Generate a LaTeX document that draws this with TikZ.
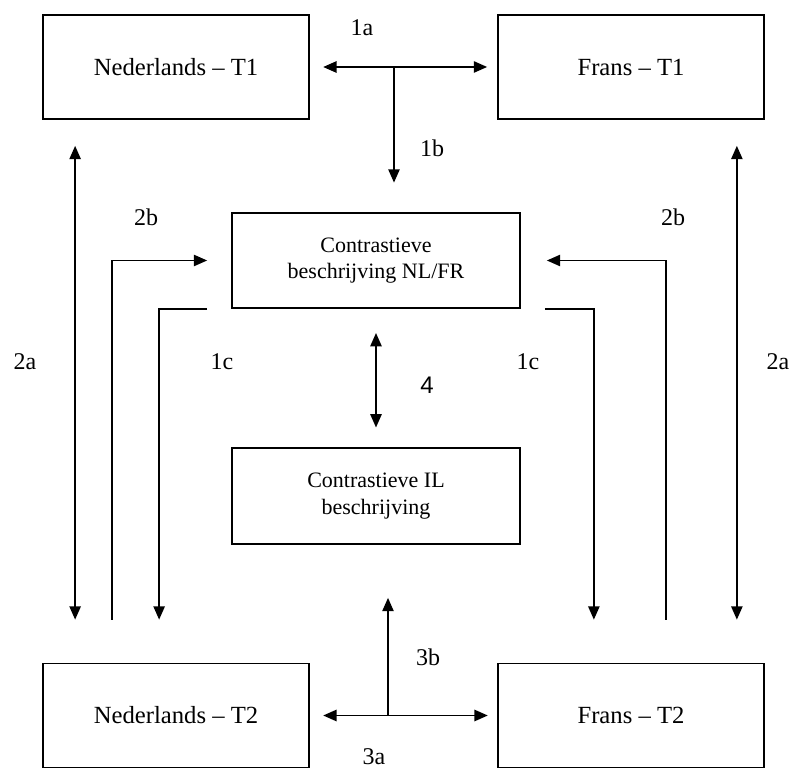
\documentclass[tikz,border=0pt]{standalone}
\usepackage{fontspec}
\setmainfont{Liberation Serif}
\newfontfamily\numfont{Liberation Sans}
\usetikzlibrary{arrows.meta,calc}

\begin{document}
\begin{tikzpicture}[x=0.75pt,y=-0.75pt]
		\tikzstyle{lang}=[draw, line width=1.3pt, minimum width=199.5pt, minimum height=78pt, font=\fontsize{18.5}{22}\selectfont]
		\tikzstyle{descr}=[lang, minimum width=216pt, minimum height=71.5pt, align=center, font=\fontsize{16.5}{20}\selectfont]
		\tikzstyle{link}=[line width=1.2pt, -{Triangle[length=10pt,width=8.5pt]}]
		\tikzstyle{both}=[line width=1.2pt, {Triangle[length=10pt,width=8.5pt]}-{Triangle[length=10pt,width=8.5pt]}]
		\tikzstyle{lbl}=[font=\fontsize{18}{22}\selectfont]

		\useasboundingbox (0,0) rectangle (794,773);

		% boxes
		\node [lang] (nlA) at (176,67) {Nederlands – T1};
		\node [lang] (frA) at (631,67) {Frans – T1};
		\node [descr] (cb) at (376,260.5) {Contrastieve\\beschrijving NL/FR};
		\node [descr] (il) at (376,496) {Contrastieve IL\\beschrijving};
		\node [lang] (nlB) at (176,715.5) {Nederlands – T2};
		\node [lang] (frB) at (631,715.5) {Frans – T2};

		% 1a, 1b
		\draw [both, shorten <=10pt, shorten >=7.5pt] (nlA) -- (frA);
		\coordinate (t1) at (394,67);
		\draw [link, shorten >=22pt] (t1) -- (t1 |- cb.north);
		\node [lbl] (l1a) at (362,28) {1a};
		\node [lbl] (l1b) at (432,148) {1b};

		% 2a
		\draw [both] ($(nlA.south west)+(33,26)$) -- ($(nlB.north west)+(33,-43)$);
		\draw [both] ($(frA.south east)+(-28,26)$) -- ($(frB.north east)+(-28,-43)$);
		\node [lbl] (l2aL) at (25,362) {2a};
		\node [lbl] (l2aR) at (778,362) {2a};

		% 2b
		\draw [link] ($(nlB.north west)+(70,-43)$) |- ($(cb.west)+(-24,0)$);
		\draw [link] ($(frB.north east)+(-99,-43)$) |- ($(cb.east)+(26,0)$);
		\node [lbl] (l2bL) at (146,217) {2b};
		\node [lbl] (l2bR) at (673,217) {2b};

		% 1c
		\draw [link] ($(cb.south west)+(-24,0)$) -| ($(nlB.north west)+(117,-43)$);
		\draw [link] ($(cb.south east)+(24,0)$) -| ($(frB.north east)+(-171,-43)$);
		\node [lbl] (l1cL) at (222,362) {1c};
		\node [lbl] (l1cR) at (528,362) {1c};

		% 4
		\draw [both, shorten <=18pt, shorten >=15pt] (cb.south) -- (il.north);
		\node [lbl] (l4) at (427,385) {\numfont 4};

		% 3a, 3b
		\draw [both, shorten <=10pt, shorten >=7pt] (nlB) -- (frB);
		\coordinate (t2) at (388,715.5);
		\draw [link, shorten >=40pt] (t2) -- (t2 |- il.south);
		\node [lbl] (l3b) at (428,657) {3b};
		\node [lbl] (l3a) at (374,757) {3a};

	\end{tikzpicture}
\end{document}
